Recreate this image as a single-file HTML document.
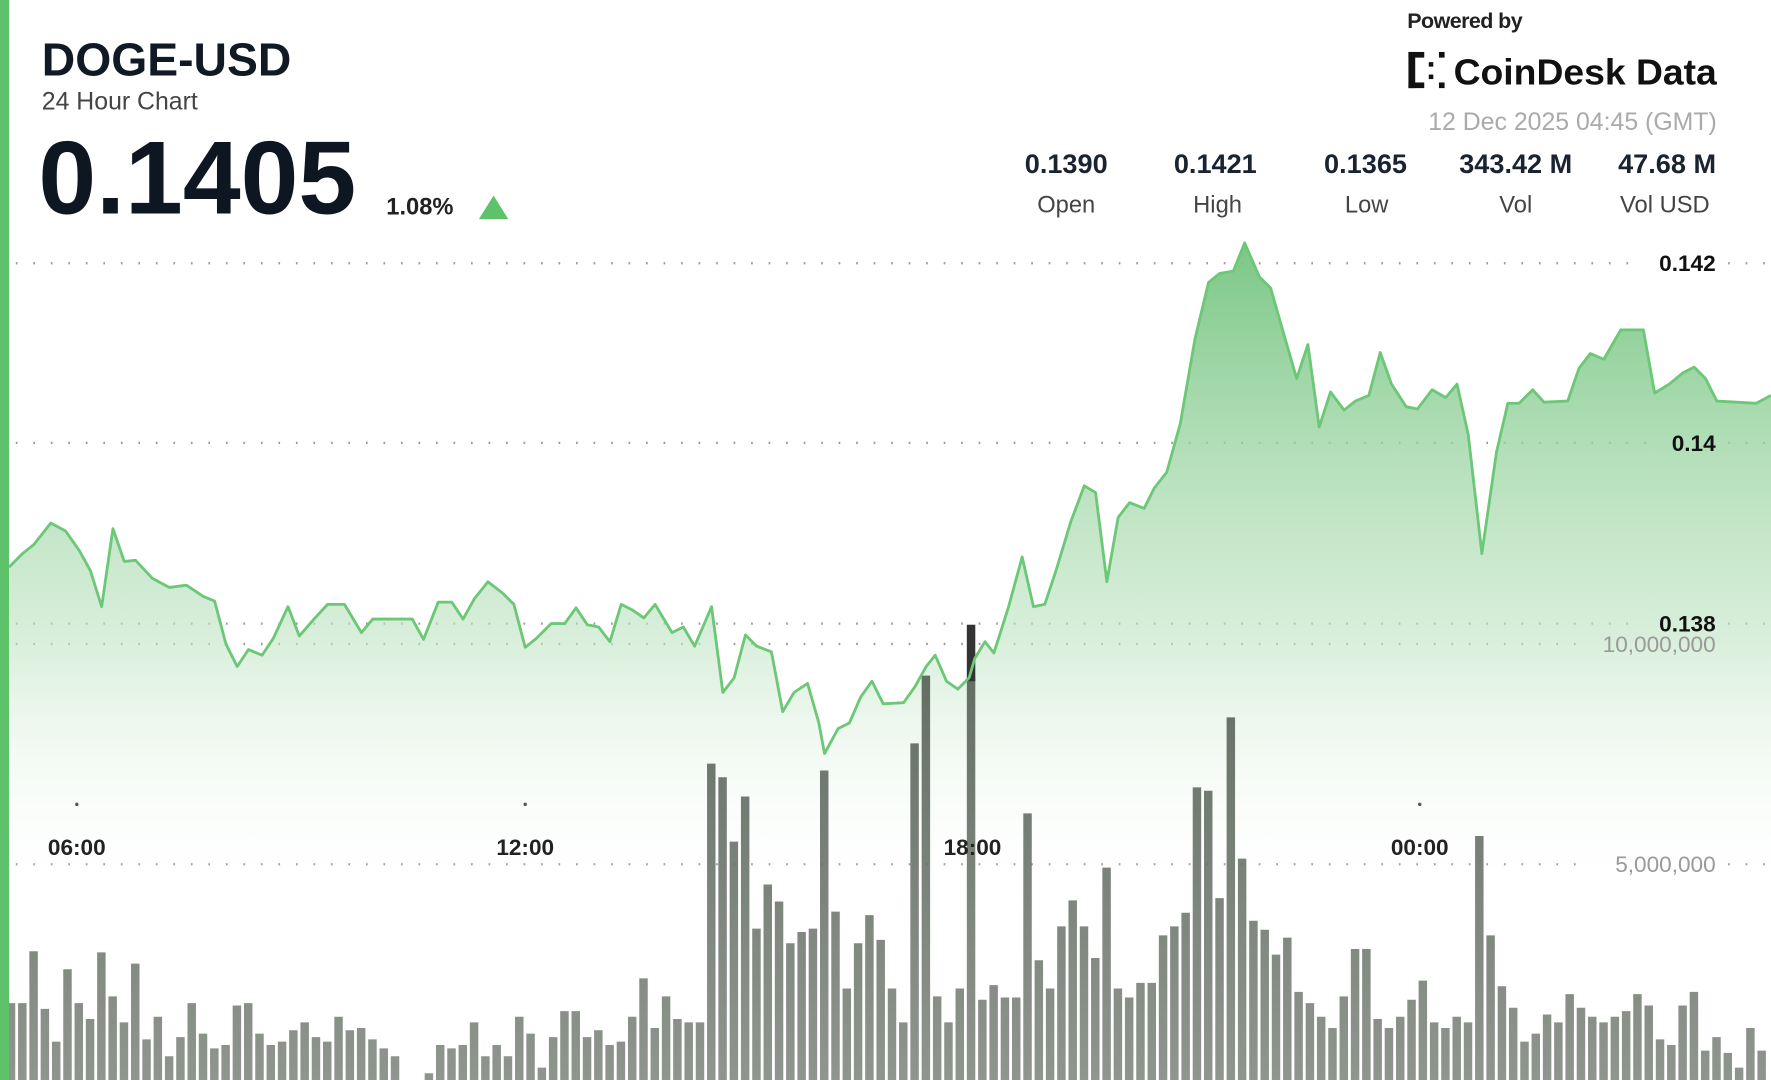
<!DOCTYPE html>
<html><head><meta charset="utf-8"><style>
html,body{margin:0;padding:0;background:#fff;}
svg{display:block;}
</style></head><body>
<svg width="1771" height="1080" viewBox="0 0 1568 956" preserveAspectRatio="none" font-family="'Liberation Sans', sans-serif">
<defs>
<linearGradient id="ag" gradientUnits="userSpaceOnUse" x1="0" y1="215" x2="0" y2="800">
<stop offset="0" stop-color="#74c47f" stop-opacity="0.95"/>
<stop offset="0.6" stop-color="#bfe4c3" stop-opacity="0.6"/>
<stop offset="1" stop-color="#ffffff" stop-opacity="0"/>
</linearGradient>
<linearGradient id="bg" gradientUnits="userSpaceOnUse" x1="0" y1="550" x2="0" y2="956">
<stop offset="0" stop-color="#4f5a4f" stop-opacity="0.9"/>
<stop offset="1" stop-color="#7a837a" stop-opacity="0.85"/>
</linearGradient>
</defs>
<rect x="0" y="0" width="1568" height="956" fill="#fff"/>
<g stroke="#999" stroke-width="2" stroke-dasharray="1.5 14" fill="none">
<line x1="14" y1="233" x2="1445" y2="233"/>
<line x1="14" y1="392" x2="1460" y2="392"/>
<line x1="14" y1="552" x2="1445" y2="552"/>
<line x1="14" y1="570" x2="1395" y2="570"/>
<line x1="14" y1="765" x2="1405" y2="765"/>
<line x1="1530" y1="233" x2="1568" y2="233"/>
<line x1="1530" y1="392" x2="1568" y2="392"/>
<line x1="1530" y1="552" x2="1568" y2="552"/>
<line x1="1530" y1="765" x2="1568" y2="765"/>
</g>
<polygon fill="url(#ag)" points="8,502 20,490 30,482 45,463 58,470 70,487 80,505 90,537 100,468 110,497 120,496 135,512 150,520 165,518 180,528 190,532 200,570 210,590 220,575 232,580 242,565 255,537 265,563 278,548 290,535 305,535 320,560 330,548 345,548 365,548 375,566 388,533 400,533 410,548 420,530 432,515 445,525 455,535 465,573 475,565 488,552 500,552 510,538 520,553 530,555 540,568 550,535 560,540 570,547 580,535 595,560 605,555 615,572 630,537 640,613 650,600 660,562 670,572 683,577 693,630 703,613 715,605 725,640 730,667 742,645 752,640 762,617 772,603 782,623 800,622 810,608 820,590 828,580 838,603 848,610 858,600 863,583 872,568 880,578 893,537 905,493 915,537 925,535 935,505 948,462 960,430 970,436 980,515 990,458 1000,445 1013,450 1022,432 1033,418 1045,375 1058,300 1070,250 1080,242 1092,240 1102,215 1115,245 1125,255 1135,290 1148,335 1158,305 1168,378 1178,347 1190,363 1200,355 1212,350 1222,312 1232,340 1245,360 1255,362 1268,345 1280,352 1290,340 1300,385 1312,490 1325,400 1335,357 1345,357 1357,345 1367,356 1388,355 1398,326 1408,313 1420,318 1435,292 1455,292 1465,348 1478,340 1490,330 1500,325 1510,335 1520,355 1555,357 1568,350 1568,956 8,956"/>
<path fill="url(#bg)" d="M6 888h7.5V956h-7.5Z
M16 888h7.5V956h-7.5Z M26 842h7.5V956h-7.5Z M36 893h7.5V956h-7.5Z M46 922h7.5V956h-7.5Z M56 858h7.5V956h-7.5Z M66 888h7.5V956h-7.5Z M76 902h7.5V956h-7.5Z M86 843h7.5V956h-7.5Z M96 882h7.5V956h-7.5Z M106 905h7.5V956h-7.5Z
M116 853h7.5V956h-7.5Z M126 920h7.5V956h-7.5Z M136 900h7.5V956h-7.5Z M146 935h7.5V956h-7.5Z M156 918h7.5V956h-7.5Z M166 888h7.5V956h-7.5Z M176 915h7.5V956h-7.5Z M186 928h7.5V956h-7.5Z M196 925h7.5V956h-7.5Z M206 890h7.5V956h-7.5Z
M216 888h7.5V956h-7.5Z M226 915h7.5V956h-7.5Z M236 925h7.5V956h-7.5Z M246 922h7.5V956h-7.5Z M256 912h7.5V956h-7.5Z M266 905h7.5V956h-7.5Z M276 918h7.5V956h-7.5Z M286 922h7.5V956h-7.5Z M296 900h7.5V956h-7.5Z M306 912h7.5V956h-7.5Z
M316 910h7.5V956h-7.5Z M326 920h7.5V956h-7.5Z M336 928h7.5V956h-7.5Z M346 935h7.5V956h-7.5Z M376 950h7.5V956h-7.5Z M386 925h7.5V956h-7.5Z M396 928h7.5V956h-7.5Z M406 925h7.5V956h-7.5Z
M416 905h7.5V956h-7.5Z M426 935h7.5V956h-7.5Z M436 925h7.5V956h-7.5Z M446 935h7.5V956h-7.5Z M456 900h7.5V956h-7.5Z M466 915h7.5V956h-7.5Z M476 945h7.5V956h-7.5Z M486 918h7.5V956h-7.5Z M496 895h7.5V956h-7.5Z M506 895h7.5V956h-7.5Z
M516 918h7.5V956h-7.5Z M526 912h7.5V956h-7.5Z M536 925h7.5V956h-7.5Z M546 922h7.5V956h-7.5Z M556 900h7.5V956h-7.5Z M566 866h7.5V956h-7.5Z M576 910h7.5V956h-7.5Z M586 882h7.5V956h-7.5Z M596 902h7.5V956h-7.5Z M606 905h7.5V956h-7.5Z
M616 905h7.5V956h-7.5Z M626 676h7.5V956h-7.5Z M636 688h7.5V956h-7.5Z M646 745h7.5V956h-7.5Z M656 705h7.5V956h-7.5Z M666 822h7.5V956h-7.5Z M676 783h7.5V956h-7.5Z M686 798h7.5V956h-7.5Z M696 835h7.5V956h-7.5Z M706 825h7.5V956h-7.5Z
M716 822h7.5V956h-7.5Z M726 682h7.5V956h-7.5Z M736 807h7.5V956h-7.5Z M746 875h7.5V956h-7.5Z M756 835h7.5V956h-7.5Z M766 810h7.5V956h-7.5Z M776 832h7.5V956h-7.5Z M786 875h7.5V956h-7.5Z M796 905h7.5V956h-7.5Z M806 658h7.5V956h-7.5Z
M816 598h7.5V956h-7.5Z M826 882h7.5V956h-7.5Z M836 905h7.5V956h-7.5Z M846 875h7.5V956h-7.5Z M856 600h7.5V956h-7.5Z M866 885h7.5V956h-7.5Z M876 872h7.5V956h-7.5Z M886 883h7.5V956h-7.5Z M896 883h7.5V956h-7.5Z M906 720h7.5V956h-7.5Z
M916 850h7.5V956h-7.5Z M926 875h7.5V956h-7.5Z M936 820h7.5V956h-7.5Z M946 797h7.5V956h-7.5Z M956 820h7.5V956h-7.5Z M966 848h7.5V956h-7.5Z M976 768h7.5V956h-7.5Z M986 875h7.5V956h-7.5Z M996 883h7.5V956h-7.5Z M1006 870h7.5V956h-7.5Z
M1016 870h7.5V956h-7.5Z M1026 828h7.5V956h-7.5Z M1036 820h7.5V956h-7.5Z M1046 808h7.5V956h-7.5Z M1056 697h7.5V956h-7.5Z M1066 700h7.5V956h-7.5Z M1076 795h7.5V956h-7.5Z M1086 635h7.5V956h-7.5Z M1096 760h7.5V956h-7.5Z M1106 815h7.5V956h-7.5Z
M1116 823h7.5V956h-7.5Z M1126 845h7.5V956h-7.5Z M1136 830h7.5V956h-7.5Z M1146 878h7.5V956h-7.5Z M1156 888h7.5V956h-7.5Z M1166 900h7.5V956h-7.5Z M1176 910h7.5V956h-7.5Z M1186 882h7.5V956h-7.5Z M1196 840h7.5V956h-7.5Z M1206 840h7.5V956h-7.5Z
M1216 902h7.5V956h-7.5Z M1226 910h7.5V956h-7.5Z M1236 900h7.5V956h-7.5Z M1246 885h7.5V956h-7.5Z M1256 868h7.5V956h-7.5Z M1266 905h7.5V956h-7.5Z M1276 910h7.5V956h-7.5Z M1286 900h7.5V956h-7.5Z M1296 905h7.5V956h-7.5Z M1306 740h7.5V956h-7.5Z
M1316 828h7.5V956h-7.5Z M1326 873h7.5V956h-7.5Z M1336 892h7.5V956h-7.5Z M1346 922h7.5V956h-7.5Z M1356 915h7.5V956h-7.5Z M1366 898h7.5V956h-7.5Z M1376 905h7.5V956h-7.5Z M1386 880h7.5V956h-7.5Z M1396 892h7.5V956h-7.5Z M1406 900h7.5V956h-7.5Z
M1416 905h7.5V956h-7.5Z M1426 900h7.5V956h-7.5Z M1436 895h7.5V956h-7.5Z M1446 880h7.5V956h-7.5Z M1456 890h7.5V956h-7.5Z M1466 920h7.5V956h-7.5Z M1476 925h7.5V956h-7.5Z M1486 890h7.5V956h-7.5Z M1496 878h7.5V956h-7.5Z M1506 930h7.5V956h-7.5Z
M1516 918h7.5V956h-7.5Z M1526 932h7.5V956h-7.5Z M1536 945h7.5V956h-7.5Z M1546 910h7.5V956h-7.5Z M1556 930h7.5V956h-7.5Z"/>
<rect x="856" y="553" width="7.5" height="50" fill="#333"/>
<polyline fill="none" stroke="#6cc777" stroke-width="2.5" stroke-linejoin="round" points="8,502 20,490 30,482 45,463 58,470 70,487 80,505 90,537 100,468 110,497 120,496 135,512 150,520 165,518 180,528 190,532 200,570 210,590 220,575 232,580 242,565 255,537 265,563 278,548 290,535 305,535 320,560 330,548 345,548 365,548 375,566 388,533 400,533 410,548 420,530 432,515 445,525 455,535 465,573 475,565 488,552 500,552 510,538 520,553 530,555 540,568 550,535 560,540 570,547 580,535 595,560 605,555 615,572 630,537 640,613 650,600 660,562 670,572 683,577 693,630 703,613 715,605 725,640 730,667 742,645 752,640 762,617 772,603 782,623 800,622 810,608 820,590 828,580 838,603 848,610 858,600 863,583 872,568 880,578 893,537 905,493 915,537 925,535 935,505 948,462 960,430 970,436 980,515 990,458 1000,445 1013,450 1022,432 1033,418 1045,375 1058,300 1070,250 1080,242 1092,240 1102,215 1115,245 1125,255 1135,290 1148,335 1158,305 1168,378 1178,347 1190,363 1200,355 1212,350 1222,312 1232,340 1245,360 1255,362 1268,345 1280,352 1290,340 1300,385 1312,490 1325,400 1335,357 1345,357 1357,345 1367,356 1388,355 1398,326 1408,313 1420,318 1435,292 1455,292 1465,348 1478,340 1490,330 1500,325 1510,335 1520,355 1555,357 1568,350"/>
<rect x="0" y="0" width="8" height="956" fill="#5ec26a"/>
<g fill="#111" font-weight="bold" font-size="20" text-anchor="end">
<text x="1519" y="240">0.142</text>
<text x="1519" y="399">0.14</text>
<text x="1519" y="559">0.138</text>
</g>
<g fill="#999" font-size="20" text-anchor="end">
<text x="1519" y="577">10,000,000</text>
<text x="1519" y="772">5,000,000</text>
</g>
<g fill="#222" font-weight="bold" font-size="20" text-anchor="middle">
<text x="68" y="757">06:00</text>
<text x="465" y="757">12:00</text>
<text x="861" y="757">18:00</text>
<text x="1257" y="757">00:00</text>
</g>
<g fill="#555"><circle cx="68" cy="712" r="1.5"/><circle cx="465" cy="712" r="1.5"/><circle cx="1257" cy="712" r="1.5"/></g>
<text x="37" y="67" font-size="41" font-weight="bold" fill="#111a24">DOGE-USD</text>
<text x="37" y="97" font-size="22" fill="#444">24 Hour Chart</text>
<text x="34" y="189" font-size="92" font-weight="bold" fill="#0e1621">0.1405</text>
<text x="342" y="190" font-size="21" font-weight="bold" fill="#222">1.08%</text>
<polygon points="424,194 450,194 437,173" fill="#5ec26a"/>
<text x="1246" y="25" font-size="19" font-weight="bold" fill="#222" letter-spacing="-0.5">Powered by</text>
<g fill="#111"><rect x="1247" y="46" width="6" height="32"/><rect x="1247" y="46" width="14" height="5"/><rect x="1247" y="73" width="14" height="5"/><rect x="1265" y="55" width="4" height="4"/><rect x="1265" y="66" width="4" height="4"/><rect x="1274" y="46" width="5" height="5"/><rect x="1274" y="73" width="5" height="5"/></g>
<text x="1287" y="75" font-size="32" font-weight="bold" fill="#111" textLength="233" lengthAdjust="spacingAndGlyphs">CoinDesk Data</text>
<text x="1520" y="115" font-size="22" fill="#aaa" text-anchor="end">12 Dec 2025 04:45 (GMT)</text>
<g font-size="24" font-weight="bold" fill="#1a2330" text-anchor="middle">
<text x="944" y="153">0.1390</text><text x="1076" y="153">0.1421</text><text x="1209" y="153">0.1365</text><text x="1342" y="153">343.42 M</text><text x="1476" y="153">47.68 M</text>
</g>
<g font-size="21" fill="#444" text-anchor="middle">
<text x="944" y="188">Open</text><text x="1078" y="188">High</text><text x="1210" y="188">Low</text><text x="1342" y="188">Vol</text><text x="1474" y="188">Vol USD</text>
</g>
</svg>
</body></html>
